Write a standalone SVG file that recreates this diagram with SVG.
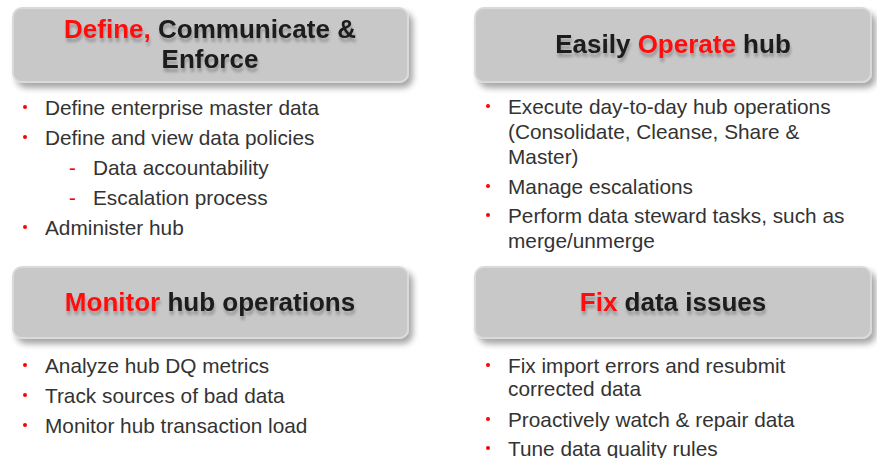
<svg xmlns="http://www.w3.org/2000/svg" width="877" height="458" viewBox="0 0 877 458">
<defs>
<filter id="boxShadow" x="-5%" y="-20%" width="115%" height="150%">
<feGaussianBlur in="SourceAlpha" stdDeviation="3"/>
<feOffset dx="4" dy="5" result="b"/>
<feComponentTransfer><feFuncA type="linear" slope="0.35"/></feComponentTransfer>
<feMerge><feMergeNode/><feMergeNode in="SourceGraphic"/></feMerge>
</filter>
<filter id="textShadow" x="-5%" y="-30%" width="110%" height="180%">
<feGaussianBlur in="SourceAlpha" stdDeviation="1.5"/>
<feOffset dx="1" dy="4"/>
<feComponentTransfer><feFuncA type="linear" slope="0.25"/></feComponentTransfer>
<feMerge><feMergeNode/><feMergeNode in="SourceGraphic"/></feMerge>
</filter>
</defs>
<style>
.box{fill:#c8c8c8;stroke:#dadada;stroke-width:2}
.title{font-family:"Liberation Sans",Arial,sans-serif;font-weight:bold;font-size:26px;fill:#1a1a1a;text-anchor:middle}
.red{fill:#ff1010}
.item{font-family:"Liberation Sans",Arial,sans-serif;font-size:20.8px;fill:#333333}
.dot{fill:#ff0000}
.dash{fill:#ff0000;font-family:"Liberation Sans",Arial,sans-serif;font-size:20.8px}
</style>
<rect width="877" height="458" fill="#ffffff"/>

<g id="define">
<rect class="box" x="13" y="8" width="395" height="74" rx="9" filter="url(#boxShadow)"/>
<g filter="url(#textShadow)">
<text class="title" x="210" y="38"><tspan class="red">Define,</tspan> Communicate &amp;</text>
<text class="title" x="210" y="68">Enforce</text>
</g>
<circle class="dot" cx="25" cy="107" r="2"/>
<text class="item" x="45" y="115">Define enterprise master data</text>
<circle class="dot" cx="25" cy="137" r="2"/>
<text class="item" x="45" y="145">Define and view data policies</text>
<text class="dash" x="69" y="175">-</text>
<text class="item" x="93" y="175">Data accountability</text>
<text class="dash" x="69" y="205">-</text>
<text class="item" x="93" y="205">Escalation process</text>
<circle class="dot" cx="25" cy="227" r="2"/>
<text class="item" x="45" y="235">Administer hub</text>
</g>

<g id="operate">
<rect class="box" x="475" y="8" width="396" height="74" rx="9" filter="url(#boxShadow)"/>
<g filter="url(#textShadow)">
<text class="title" x="673" y="53">Easily <tspan class="red">Operate</tspan> hub</text>
</g>
<circle class="dot" cx="488" cy="106" r="2"/>
<text class="item" x="508" y="114">Execute day-to-day hub operations</text>
<text class="item" x="508" y="139">(Consolidate, Cleanse, Share &amp;</text>
<text class="item" x="508" y="164">Master)</text>
<circle class="dot" cx="488" cy="186" r="2"/>
<text class="item" x="508" y="194">Manage escalations</text>
<circle class="dot" cx="488" cy="215" r="2"/>
<text class="item" x="508" y="223">Perform data steward tasks, such as</text>
<text class="item" x="508" y="248">merge/unmerge</text>
</g>

<g id="monitor">
<rect class="box" x="13" y="267" width="395" height="71" rx="9" filter="url(#boxShadow)"/>
<g filter="url(#textShadow)">
<text class="title" x="210" y="311"><tspan class="red">Monitor</tspan> hub operations</text>
</g>
<circle class="dot" cx="25" cy="365" r="2"/>
<text class="item" x="45" y="373">Analyze hub DQ metrics</text>
<circle class="dot" cx="25" cy="395" r="2"/>
<text class="item" x="45" y="403">Track sources of bad data</text>
<circle class="dot" cx="25" cy="425" r="2"/>
<text class="item" x="45" y="433">Monitor hub transaction load</text>
</g>

<g id="fix">
<rect class="box" x="475" y="267" width="396" height="71" rx="9" filter="url(#boxShadow)"/>
<g filter="url(#textShadow)">
<text class="title" x="673" y="311"><tspan class="red">Fix</tspan> data issues</text>
</g>
<circle class="dot" cx="488" cy="365" r="2"/>
<text class="item" x="508" y="373">Fix import errors and resubmit</text>
<text class="item" x="508" y="396">corrected data</text>
<circle class="dot" cx="488" cy="419" r="2"/>
<text class="item" x="508" y="427">Proactively watch &amp; repair data</text>
<circle class="dot" cx="488" cy="448" r="2"/>
<text class="item" x="508" y="456">Tune data quality rules</text>
</g>

<g id="connectors"></g>
</svg>
